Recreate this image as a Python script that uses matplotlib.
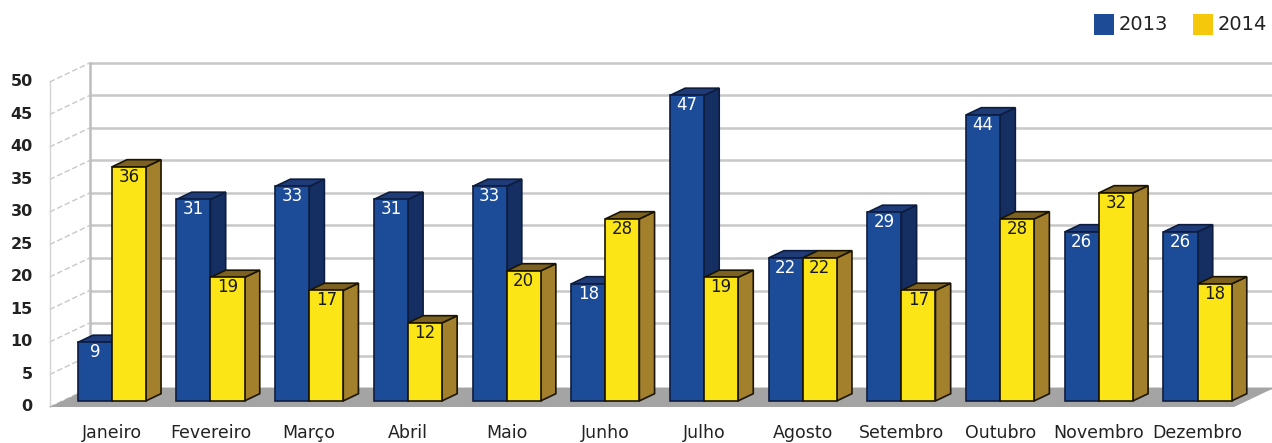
import matplotlib
matplotlib.use("Agg")
import matplotlib.pyplot as plt
from matplotlib.patches import Polygon, Rectangle

# ---- data ----
months = ["Janeiro", "Fevereiro", "Março", "Abril", "Maio", "Junho",
          "Julho", "Agosto", "Setembro", "Outubro", "Novembro", "Dezembro"]
values_2013 = [9, 31, 33, 31, 33, 18, 47, 22, 29, 44, 26, 26]
values_2014 = [36, 19, 17, 12, 20, 28, 19, 22, 17, 28, 32, 18]
series_names = ["2013", "2014"]
y_ticks = [0, 5, 10, 15, 20, 25, 30, 35, 40, 45, 50]

# ---- style ----
FONT = "DejaVu Sans"
TEXT = "#222222"
BLUE = dict(front="#1c4c98", side="#162f62", top="#1f3b78", edge="#0d1d40",
            label="white", legend="#1d4b95")
YELLOW = dict(front="#fbe516", side="#a2802c", top="#7d6120", edge="#1a1400",
              label="#1a1a1a", legend="#f6c80c")

# oblique projection: depth d in [0 (back wall), 1 (front plane)]
DX = -0.405   # horizontal shift per unit depth (category units)
DY = -2.92    # vertical shift per unit depth (value units)
D_FRONT, D_BACK = 0.68, 0.30
BAR_W = 0.345
X_LO, X_HI = -0.5, 11.5
Y_MAX = 50


def proj(x, v, d):
    return (x + DX * d, v + DY * d)


fig = plt.figure(figsize=(12.72, 4.43), dpi=100)
ax = fig.add_axes([0, 0, 1, 1])
ax.set_xlim(-1.408, 11.479)
ax.set_ylim(-8.46, 59.69)
ax.axis("off")

# back wall and its gridlines
ax.add_patch(Polygon([proj(X_LO, 0, 0), proj(X_HI, 0, 0), proj(X_HI, Y_MAX, 0),
                      proj(X_LO, Y_MAX, 0)], closed=True, facecolor="white",
                     edgecolor="none", zorder=0))
for t in y_ticks:
    xa, ya = proj(X_LO, t, 0)
    xb, yb = proj(X_HI + 0.5, t, 0)
    ax.plot([xa, xb], [ya, yb], color="#c8c8c8", lw=1.8, zorder=1,
            solid_capstyle="butt")
    # dashed line across the left wall
    xf, yf = proj(X_LO, t, 1)
    ax.plot([xf, xa], [yf, ya], color="#c8c8c8", lw=1.0, ls=(0, (4, 2)), zorder=1)
    ax.text(xf - 0.17, yf, str(t), ha="right", va="center", fontsize=11.5,
            family=FONT, color=TEXT, fontweight="bold")

# left wall edges
xb0, yb0 = proj(X_LO, 0, 0)
xb1, yb1 = proj(X_LO, Y_MAX, 0)
ax.plot([xb0, xb1], [yb0, yb1], color="#bdbdbd", lw=1.8, zorder=1)
xf0, yf0 = proj(X_LO, 0, 1)
xf1, yf1 = proj(X_LO, Y_MAX, 1)
ax.plot([xf0, xf1], [yf0, yf1], color="#d4d4d4", lw=1.0, zorder=1)

# floor
ax.add_patch(Polygon([proj(X_LO, 0, 0), proj(X_HI, 0, 0), proj(X_HI, 0, 1),
                      proj(X_LO, 0, 1)], closed=True, facecolor="#a4a4a4",
                     edgecolor="none", zorder=2))


def draw_bar(x0, v, c, z):
    x1 = x0 + BAR_W
    front = [proj(x0, 0, D_FRONT), proj(x1, 0, D_FRONT),
             proj(x1, v, D_FRONT), proj(x0, v, D_FRONT)]
    side = [proj(x1, 0, D_FRONT), proj(x1, 0, D_BACK),
            proj(x1, v, D_BACK), proj(x1, v, D_FRONT)]
    top = [proj(x0, v, D_FRONT), proj(x1, v, D_FRONT),
           proj(x1, v, D_BACK), proj(x0, v, D_BACK)]
    kw = dict(closed=True, edgecolor=c["edge"], lw=1.2, joinstyle="miter")
    ax.add_patch(Polygon(side, facecolor=c["side"], zorder=z, **kw))
    ax.add_patch(Polygon(top, facecolor=c["top"], zorder=z, **kw))
    ax.add_patch(Polygon(front, facecolor=c["front"], zorder=z + 0.1, **kw))
    tx, ty = proj(x0 + BAR_W / 2, v, D_FRONT)
    ax.text(tx, ty - 1.55, str(v), ha="center", va="center", fontsize=12,
            family=FONT, color=c["label"], zorder=z + 0.2)


for i, (a, b) in enumerate(zip(values_2013, values_2014)):
    draw_bar(i - BAR_W, a, BLUE, 3 + i)
    draw_bar(i, b, YELLOW, 3.5 + i)
    lx, _ = proj(i, 0, D_FRONT)
    ax.text(lx, -7.75, months[i], ha="center", va="baseline", fontsize=12.5,
            family=FONT, color=TEXT)

# legend (top right), sizes in figure pixels
W, H = 1272.0, 443.0
for name, c, x_px in [(series_names[0], BLUE, 1094), (series_names[1], YELLOW, 1193)]:
    fig.patches.append(Rectangle((x_px / W, 1 - 35 / H), 20 / W, 21 / H,
                                 transform=fig.transFigure,
                                 facecolor=c["legend"], edgecolor="none"))
    fig.text((x_px + 25) / W, 1 - 24.5 / H, name, ha="left", va="center",
             fontsize=14, family=FONT, color=TEXT)

fig.savefig("out.png", dpi=100)
